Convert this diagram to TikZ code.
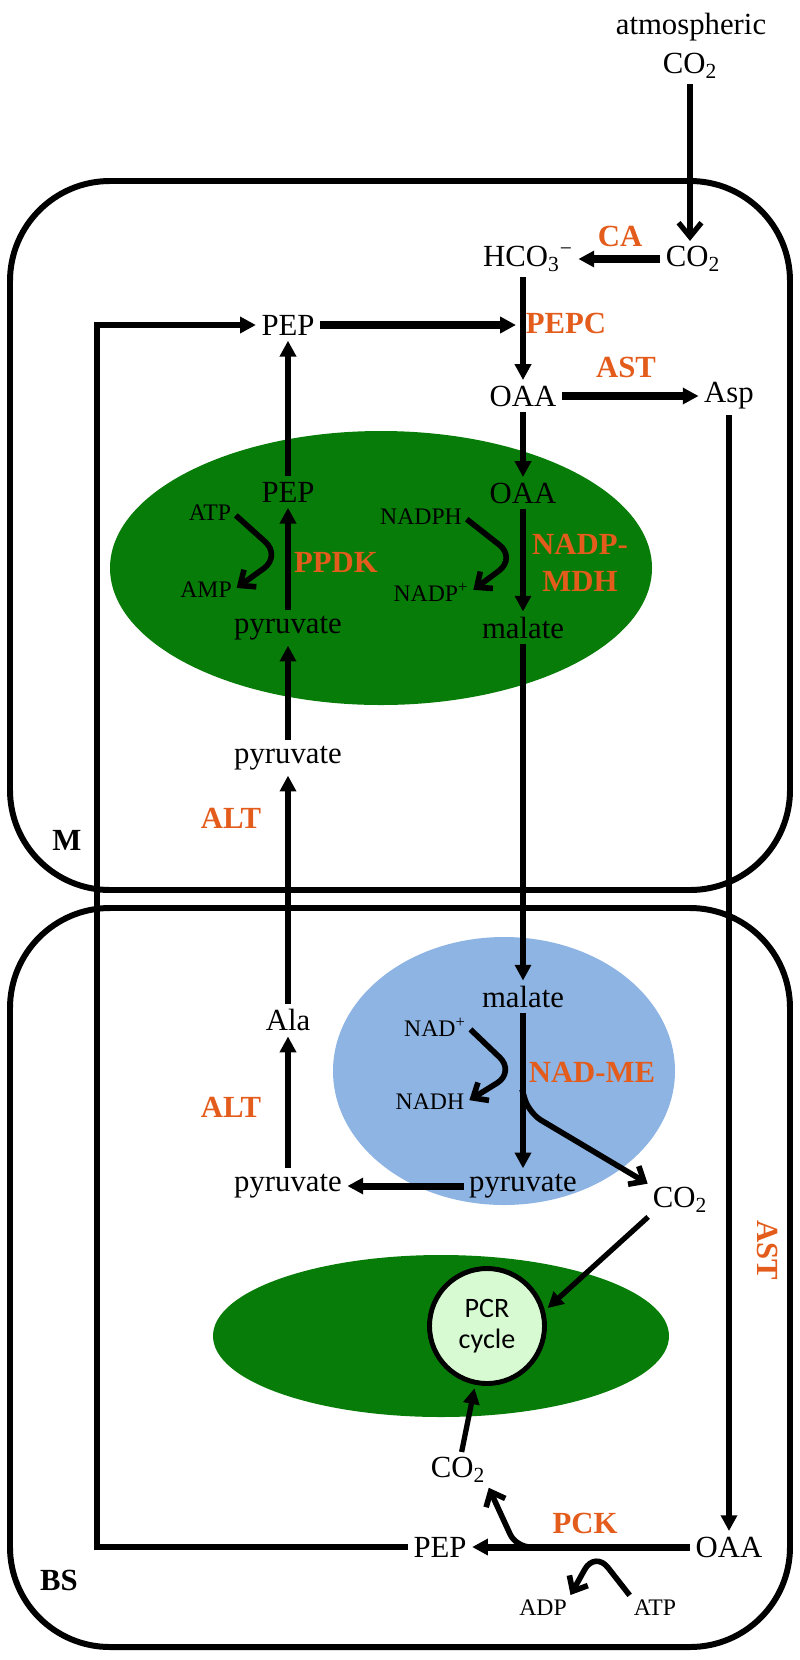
\documentclass[tikz,border=0pt]{standalone}
\usepackage{fontspec}
\setmainfont{Liberation Serif}
\newfontfamily\pcrfont{Carlito}
\usetikzlibrary{arrows.meta}

\definecolor{enzorange}{RGB}{228,92,28}
\definecolor{chlgreen}{RGB}{8,124,8}
\definecolor{mitoblue}{RGB}{142,180,227}
\definecolor{pcrgreen}{RGB}{215,250,210}

\tikzset{
  metab/.style={font=\fontsize{17.5}{20}\selectfont, inner sep=1pt},
  cofac/.style={font=\fontsize{13.5}{16}\selectfont, inner sep=1pt},
  enzyme/.style={font=\fontsize{17.5}{20}\selectfont\bfseries, text=enzorange, inner sep=1pt},
  cellwall/.style={draw, line width=3.4pt, rounded corners=2cm},
  mainarr/.style={-{Triangle[length=9pt,width=9pt]}, line width=3pt, shorten >=2pt, shorten <=2pt},
  widearr/.style={mainarr, line width=4pt},
  openarr/.style={-{Straight Barb[length=8pt,width=13pt]}, line width=3pt, shorten >=2pt, shorten <=2pt},
  sidearr/.style={openarr, -{Straight Barb[length=7pt,width=12pt]}, line width=3.2pt, rounded corners=12pt},
}

\begin{document}
\begin{tikzpicture}[x=0.02cm, y=-0.02cm]
  \useasboundingbox (0,0) rectangle (800,1660);

  % compartments
  \draw[cellwall] (10,181) rectangle (790,890);
  \draw[cellwall] (10,908) rectangle (790,1647);
  \fill[chlgreen] (381,568) ellipse [x radius=271, y radius=137];
  \fill[mitoblue] (504,1071) ellipse [x radius=171, y radius=134];
  \fill[chlgreen] (441,1336) ellipse [x radius=228, y radius=81];

  % nodes
  \node[metab] (atm) at (691,27) {atmospheric};
  \node[metab] (atmco2) at (690,66) {CO\textsubscript{2}};
  \node[metab] (co2a) at (693,259) {CO\textsubscript{2}};
  \node[metab] (hco3) at (528,259) {HCO\textsubscript{3}\textsuperscript{−}};
  \node[metab] (pep1) at (288,325) {PEP};
  \node[metab] (oaa1) at (523,396) {OAA};
  \node[metab] (asp) at (729,396) {Asp};
  \node[metab] (pep2) at (288,492) {PEP};
  \node[metab] (oaa2) at (523,493) {OAA};
  \node[cofac] (atp1) at (210,513) {ATP};
  \node[cofac] (amp) at (206,590) {AMP};
  \node[cofac] (nadph) at (421,517) {NADPH};
  \node[cofac] (nadpp) at (431,592) {NADP\textsuperscript{+}};
  \node[metab] (pyr1) at (288,628) {pyruvate};
  \node[metab] (mal1) at (523,628) {malate};
  \node[metab] (pyr2) at (288,758) {pyruvate};
  \node[metab] (mal2) at (523,997) {malate};
  \node[metab] (ala) at (288,1020) {Ala};
  \node[cofac] (nadp) at (435,1027) {NAD\textsuperscript{+}};
  \node[cofac] (nadh) at (430,1102) {NADH};
  \node[metab] (pyr3) at (523,1186) {pyruvate};
  \node[metab] (pyr4) at (288,1186) {pyruvate};
  \node[metab] (co2b) at (680,1200) {CO\textsubscript{2}};
  \node[circle, draw, line width=2.8pt, fill=pcrgreen, minimum size=2.3cm, inner sep=0pt,
    align=center, font=\pcrfont\fontsize{16}{17.5}\selectfont] (pcr) at (487,1326) {PCR\\cycle};
  \node[metab] (co2c) at (458,1470) {CO\textsubscript{2}};
  \node[metab] (pep3) at (440,1547) {PEP};
  \node[metab] (oaa3) at (729,1547) {OAA};
  \node[cofac] (adp) at (543,1608) {ADP};
  \node[cofac] (atp2) at (655,1608) {ATP};
  \node[metab, font=\fontsize{17.5}{20}\selectfont\bfseries] (mlab) at (67,840) {M};
  \node[metab, font=\fontsize{17.5}{20}\selectfont\bfseries] (bslab) at (59,1580) {BS};

  % enzymes
  \node[enzyme] (ca) at (620,236) {CA};
  \node[enzyme] (pepc) at (566,323) {PEPC};
  \node[enzyme] (ast1) at (626,367) {AST};
  \node[enzyme] (ppdk) at (336,562) {PPDK};
  \node[enzyme, align=center, font=\fontsize{17.5}{21}\selectfont\bfseries] (mdh) at (580,563) {NADP-\\MDH};
  \node[enzyme] (alt1) at (231,818) {ALT};
  \node[enzyme] (nadme) at (592,1072) {NAD-ME};
  \node[enzyme] (alt2) at (231,1107) {ALT};
  \node[enzyme, rotate=-90] (ast2) at (768,1250) {AST};
  \node[enzyme] (pck) at (585,1523) {PCK};

  % bends
  \coordinate (looptl) at (97,325);
  \coordinate (ppdkbend) at (281,556);
  \coordinate (mdhbend) at (516,558);
  \coordinate (mebend) at (515,1072);
  \coordinate (mebranch) at (521,1086);
  \coordinate (mebend2) at (529,1113);
  \coordinate (pckbranch) at (538,1547);
  \coordinate (pckbend) at (516,1547);
  \coordinate (atpbend) at (595,1551);

  % arrows
  \draw[openarr] (atmco2) -- (atmco2 |- co2a.north);
  \draw[widearr] (co2a) -- (hco3);
  \draw[mainarr] (hco3.south -| oaa1) -- (oaa1);
  \draw[widearr] (pep1) -- ([xshift=-2pt]pep1 -| oaa1);
  \draw[mainarr] (oaa1) -- (oaa2);
  \draw[widearr] (oaa1) -- (asp);
  \draw[mainarr] (oaa2) -- (mal1);
  \draw[mainarr] (mal1) -- (mal2);
  \draw[mainarr] (pyr1) -- (pep2);
  \draw[mainarr] (pep2) -- (pep1);
  \draw[mainarr] (pyr2) -- (pyr1);
  \draw[mainarr] (ala) -- (pyr2);
  \draw[mainarr] (pyr4) -- (ala);
  \draw[mainarr] (mal2) -- (pyr3);
  \draw[widearr] (pyr3) -- (pyr4);
  \draw[mainarr] (asp) -- (oaa3);
  \draw[widearr] (oaa3) -- (pep3);
  \draw[mainarr] (co2b.south west) -- (pcr.15);
  \draw[mainarr] (co2c) -- (pcr);
  \draw[mainarr, line width=3.5pt] (pep3.west) -| (looptl) -- (pep1.west);

  % side reactions
  \draw[sidearr] (atp1.east) -- (ppdkbend) -- (amp.east);
  \draw[sidearr] (nadph.east) -- (mdhbend) -- (nadpp.east);
  \draw[sidearr] (nadp.east) -- (mebend) -- (nadh.east);
  \draw[sidearr, rounded corners=8pt] (mebranch) -- (mebend2) -- (co2b.north west);
  \draw[sidearr, rounded corners=8pt] (pckbranch) -- (pckbend) -- (co2c.south east);
  \draw[sidearr] (atp2.north west) -- (atpbend) -- (adp.north east);

\end{tikzpicture}
\end{document}
